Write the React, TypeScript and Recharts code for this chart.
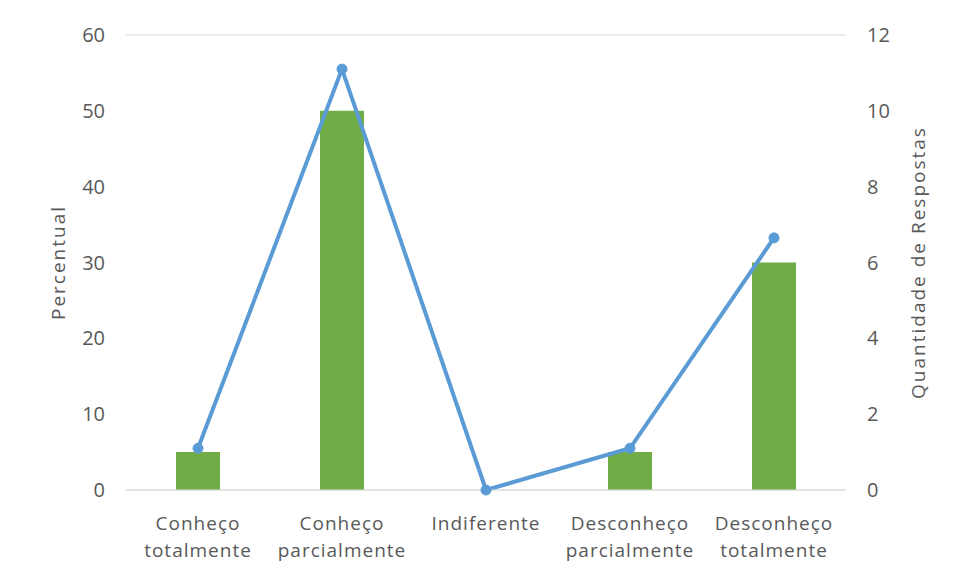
import React from "react";
import {
  ComposedChart,
  Bar,
  Line,
  XAxis,
  YAxis,
  CartesianGrid,
} from "recharts";

const categories = [
  ["Conheço", "totalmente"],
  ["Conheço", "parcialmente"],
  ["Indiferente"],
  ["Desconheço", "parcialmente"],
  ["Desconheço", "totalmente"],
];
const percentual = [5, 50, 0, 5, 30];
const respostas = [1.1, 11.1, 0, 1.1, 6.65];
const leftTicks = [0, 10, 20, 30, 40, 50, 60];
const rightTicks = [0, 2, 4, 6, 8, 10, 12];

const data = categories.map((lines, i) => ({
  name: lines.join(" "),
  percentual: percentual[i],
  respostas: respostas[i],
}));

const FONT = "'Open Sans', 'Noto Sans', sans-serif";
const TEXT = "#595959";

function CategoryTick({ x, y, payload, index }: any) {
  const lines = categories[index] ?? [payload.value];
  return (
    <text
      x={x}
      y={y}
      textAnchor="middle"
      fill={TEXT}
      fontSize={19}
      letterSpacing={1}
      fontFamily={FONT}
    >
      {lines.map((l: string, i: number) => (
        <tspan key={i} x={x} dy={i === 0 ? 40 : 27}>
          {l}
        </tspan>
      ))}
    </text>
  );
}

export default function App() {
  return (
    <div style={{ width: 945, height: 567, background: "#fff" }}>
      <ComposedChart
        width={945}
        height={567}
        data={data}
        margin={{ top: 27, right: 0, left: 0, bottom: 25 }}
      >
        <CartesianGrid vertical={false} stroke="#d9d9d9" />
        <XAxis
          dataKey="name"
          height={60}
          axisLine={{ stroke: "#d9d9d9" }}
          tickLine={false}
          tickSize={0}
          tickMargin={0}
          interval={0}
          tick={<CategoryTick />}
        />
        <YAxis
          yAxisId="left"
          orientation="left"
          width={118}
          domain={[0, 60]}
          ticks={leftTicks}
          axisLine={false}
          tickLine={false}
          tickSize={0}
          tickMargin={21}
          tick={{ fill: TEXT, fontSize: 20, fontFamily: FONT }}
          label={{
            value: "Percentual",
            angle: -90,
            position: "center",
            dx: -9,
            fill: TEXT,
            fontSize: 19,
            letterSpacing: 2,
            fontFamily: FONT,
          }}
        />
        <YAxis
          yAxisId="right"
          orientation="right"
          width={107}
          domain={[0, 12]}
          ticks={rightTicks}
          axisLine={false}
          tickLine={false}
          tickSize={0}
          tickMargin={21}
          tick={{ fill: TEXT, fontSize: 20, fontFamily: FONT }}
          label={{
            value: "Quantidade de Respostas",
            angle: -90,
            position: "center",
            dx: 19,
            fill: TEXT,
            fontSize: 19,
            letterSpacing: 2,
            fontFamily: FONT,
          }}
        />
        <Bar
          yAxisId="left"
          dataKey="percentual"
          fill="#70ad47"
          barSize={44}
          isAnimationActive={false}
        />
        <Line
          yAxisId="right"
          dataKey="respostas"
          stroke="#5b9bd5"
          strokeWidth={4}
          dot={{ r: 5, fill: "#5b9bd5", stroke: "#5b9bd5", strokeWidth: 1 }}
          activeDot={false}
          isAnimationActive={false}
        />
      </ComposedChart>
    </div>
  );
}
